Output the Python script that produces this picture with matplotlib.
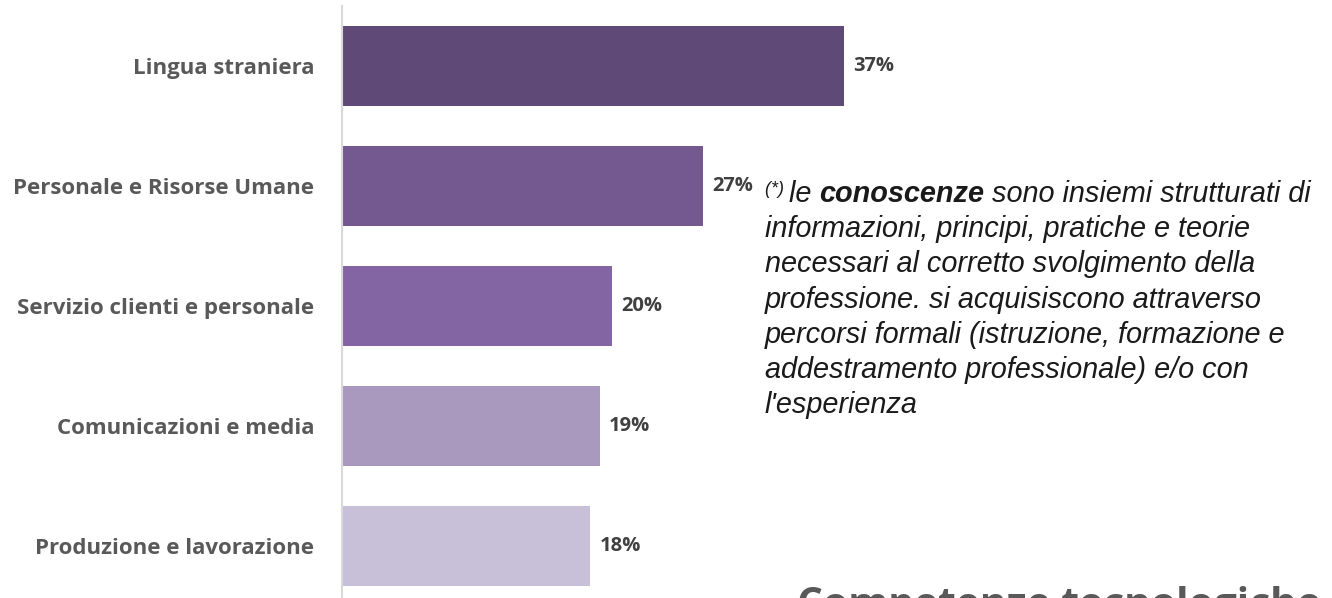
import numpy as np
import matplotlib.pyplot as plt

# dati
categorie = ['Lingua straniera', 'Personale e Risorse Umane', 'Servizio clienti e personale',
             'Comunicazioni e media', 'Produzione e lavorazione']
valori = [37.0, 26.6, 19.9, 19.0, 18.3]
colori = ['#5F4A77', '#73598F', '#8265A2', '#A999BF', '#C8C0D9']

nota_righe = ['informazioni, principi, pratiche e teorie',
              'necessari al corretto svolgimento della',
              'professione. si acquisiscono attraverso',
              'percorsi formali (istruzione, formazione e',
              'addestramento professionale) e/o con',
              "l'esperienza"]
titolo_sotto = 'Competenze tecnologiche'

W, H = 1332, 598
fig = plt.figure(figsize=(W / 100, H / 100), dpi=100)
# 13.57 px per punto percentuale, 120 px per categoria
ax = fig.add_axes([342 / W, (H - 606) / H, 60 * 13.57 / W, 600 / H])

y = np.arange(len(categorie))
ax.barh(y, valori, height=0.66, color=colori)
ax.set_xlim(0, 60)
ax.set_ylim(len(categorie) - 0.5, -0.5)
for s in ['top', 'right', 'bottom']:
    ax.spines[s].set_visible(False)
ax.spines['left'].set_color('#D9D9D9')
ax.spines['left'].set_linewidth(1.5)
ax.set_xticks([])
ax.set_yticks(y)
ax.set_yticklabels(categorie, fontsize=16, fontweight='bold', color='#595959',
                   family='Open Sans')
ax.tick_params(axis='y', length=0, pad=20)

for yi, v in zip(y, valori):
    ax.text(v + 0.66, yi, f'{v:.0f}%', va='center', ha='left', fontsize=14.5,
            fontweight='bold', color='#404040', family='Open Sans')

# nota in corsivo a destra
fig.canvas.draw()
r = fig.canvas.get_renderer()
fs = 20.8
x0 = 765 / W
y1 = 1 - 202 / H
pezzi = [('(*) ', 13, 'normal', 8 / H), ('le ', fs, 'normal', 0),
         ('conoscenze', fs, 'bold', 0), (' sono insiemi strutturati di', fs, 'normal', 0)]
x = x0
for testo, size, peso, dy in pezzi:
    t = fig.text(x, y1 + dy, testo, fontsize=size, fontstyle='italic', fontweight=peso,
                 family='Liberation Sans', color='#1A1A1A', va='baseline', ha='left')
    bb = t.get_window_extent(renderer=r)
    x += bb.width / W
for i, riga in enumerate(nota_righe):
    fig.text(x0, y1 - (i + 1) * 35.2 / H, riga, fontsize=fs, fontstyle='italic',
             family='Liberation Sans', color='#1A1A1A', va='baseline', ha='left')

fig.text(797 / W, 1 - 617 / H, titolo_sotto, fontsize=29.3, fontweight='bold',
         family='Open Sans', color='#595959', va='baseline', ha='left')

fig.savefig('out.png', dpi=100)
